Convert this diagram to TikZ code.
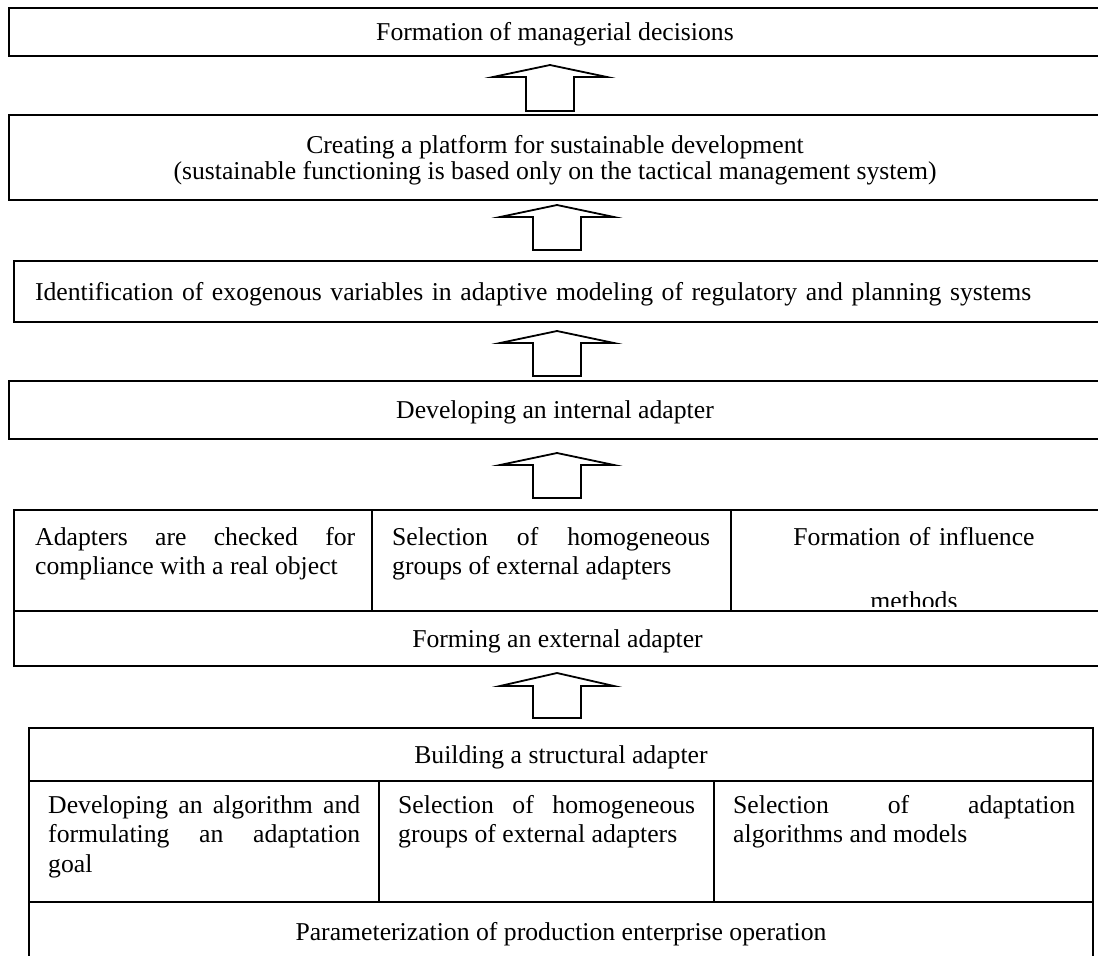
\documentclass[tikz,border=0pt]{standalone}
\usepackage{fontspec}
\setmainfont{Liberation Serif}
\usetikzlibrary{calc}

\newcommand{\boxfont}{\fontsize{25.7}{30}\selectfont}
\tolerance=10000
\hyphenpenalty=10000

\begin{document}
\begin{tikzpicture}[x=1pt, y=-1pt,
    box/.style={draw, line width=2pt, rectangle, anchor=north west, inner sep=0pt, outer sep=0pt, font=\boxfont},
    oneline/.style={text height=19pt, text depth=2pt},
    celltext/.style={anchor=base west, inner sep=0pt, align=justify, font=\fontsize{25.7}{29.5}\selectfont},
    upblock/.style={draw, line width=1.8pt, fill=white, line join=miter}]

    % Page frame
    \useasboundingbox (0,0) rectangle (1098,956);

    % Upper boxes
    \node[box, oneline, minimum width=1092pt, minimum height=48pt] (decisions) at (9,8) {Formation of managerial decisions};
    \node[box, minimum width=1092pt, minimum height=85pt, align=center, font=\fontsize{25.7}{26.5}\selectfont] (platform) at (9,115)
        {\rule{0pt}{24pt}Creating a platform for sustainable development\\(sustainable functioning is based only on the tactical management system)};
    \node[box, oneline, minimum width=1087pt, minimum height=61pt, text width=1060pt, align=left, inner xsep=21pt] (exogenous) at (14,261)
        {Identification of exogenous variables in adaptive modeling of regulatory and planning systems};
    \node[box, oneline, minimum width=1092pt, minimum height=58pt] (internal) at (9,381) {Developing an internal adapter};

    % External adapter block
    \node[box, minimum width=358pt, minimum height=101pt] (checked) at (14,510) {};
    \node[box, minimum width=359pt, minimum height=101pt] (homogeneous) at (checked.north east) {};
    \node[box, minimum width=370pt, minimum height=101pt] (influence) at (homogeneous.north east) {};
    \node[celltext, text width=320pt] (checkedtext) at ($(checked.north west)+(21,35)$)
        {Adapters are checked for\linebreak compliance with a real object};
    \node[celltext, text width=318pt] (homogeneoustext) at ($(homogeneous.north west)+(20,35)$)
        {Selection of homogeneous\linebreak groups of external adapters};
    \begin{scope}
        \clip (influence.north west) rectangle ($(influence.south east)+(0,-5)$);
        \node[celltext, text width=370pt, align=center, anchor=base] (influencetext) at ($(influence.north)+(-2,35)$)
            {Formation of influence\\[35pt]methods};
    \end{scope}
    \node[box, oneline, minimum width=1087pt, minimum height=55pt, fill=white] (external) at (checked.south west) {Forming an external adapter};

    % Structural adapter block
    \node[box, oneline, minimum width=1064pt, minimum height=53pt] (structural) at (29,728) {Building a structural adapter};
    \node[box, minimum width=350pt, minimum height=121pt] (goal) at (structural.south west) {};
    \node[box, minimum width=335pt, minimum height=121pt] (groups) at (goal.north east) {};
    \node[box, minimum width=379pt, minimum height=121pt] (algorithms) at (groups.north east) {};
    \node[celltext, text width=312pt] (goaltext) at ($(goal.north west)+(19,32)$)
        {Developing an algorithm and\linebreak formulating an adaptation\linebreak goal};
    \node[celltext, text width=297pt] (groupstext) at ($(groups.north west)+(19,32)$)
        {Selection of homogeneous\linebreak groups of external adapters};
    \node[celltext, text width=342pt] (algorithmstext) at ($(algorithms.north west)+(19,32)$)
        {Selection of adaptation\linebreak algorithms and models};
    \node[box, oneline, minimum width=1064pt, minimum height=60pt] (operation) at (goal.south west) {Parameterization of production enterprise operation};

    % Block arrows
    \coordinate (axisA) at (550,0);
    \coordinate (axisB) at (557,0);
    \draw[upblock] ($(decisions.south -| axisA)+(0,9)$) -- ++(57,12) -- ++(-33,0) -- ++(0,34) -- ++(-48,0) -- ++(0,-34) -- ++(-33,0) -- cycle;
    \draw[upblock] ($(platform.south -| axisB)+(0,5)$) -- ++(57,12) -- ++(-33,0) -- ++(0,33) -- ++(-48,0) -- ++(0,-33) -- ++(-33,0) -- cycle;
    \draw[upblock] ($(exogenous.south -| axisB)+(0,9)$) -- ++(57,12) -- ++(-33,0) -- ++(0,33) -- ++(-48,0) -- ++(0,-33) -- ++(-33,0) -- cycle;
    \draw[upblock] ($(internal.south -| axisB)+(0,14)$) -- ++(57,12) -- ++(-33,0) -- ++(0,33) -- ++(-48,0) -- ++(0,-33) -- ++(-33,0) -- cycle;
    \draw[upblock] ($(external.south -| axisB)+(0,7)$) -- ++(57,13) -- ++(-33,0) -- ++(0,32) -- ++(-48,0) -- ++(0,-32) -- ++(-33,0) -- cycle;
\end{tikzpicture}
\end{document}
